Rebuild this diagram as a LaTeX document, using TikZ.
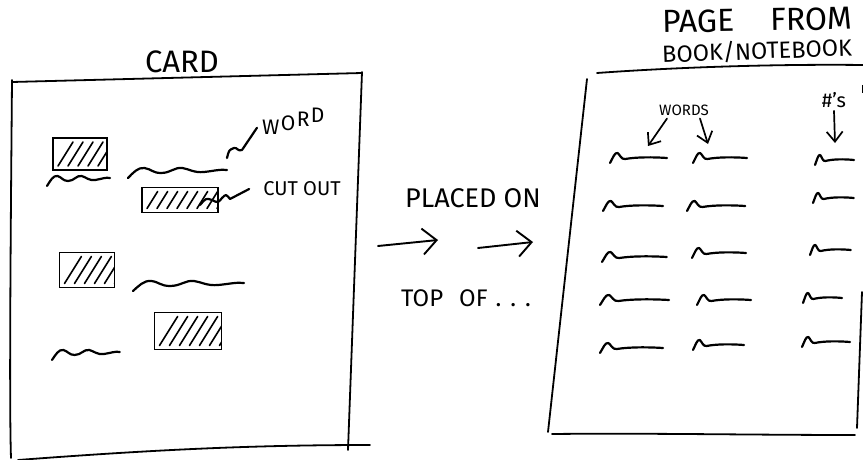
\documentclass[tikz,border=0pt]{standalone}
\usepackage{fontspec}
\setmainfont{Fira Sans}
\usetikzlibrary{arrows.meta}
\tikzset{
  ink/.style={line width=2.2pt, line cap=round, line join=round, black},
  frame/.style={line width=1.8pt, line cap=round, black},
  lbl/.style={inner sep=0pt, font=\fontsize{#1}{#1}\selectfont},
  harrow/.style={line width=1.9pt, line cap=round, -{Straight Barb[length=14pt, width=26pt, line width=1.9pt]}},
  sarrow/.style={line width=1.7pt, line cap=round, -{Straight Barb[length=10pt, width=16pt, line width=1.7pt]}},
  cutbox/.style 2 args={draw, line width=1.6pt, minimum width=#1pt, minimum height=#2pt, inner sep=0pt,
    path picture={\foreach \k in {5,15,...,85}
      \draw[line width=1.6pt, line cap=round] ([xshift=\k pt, yshift=4pt]path picture bounding box.south west) -- ++(58:{(#2-8)*1.18pt});}},
  wsq/.pic={\draw[ink] (0,5) .. controls (3,0) and (5,-6) .. (8,-5) .. controls (10,-4) and (12,2) .. (16,1) .. controls (28,-1) and (45,-1) .. (60,0);},
  csq/.pic={\draw[ink] (0,7) .. controls (3,2) and (6,-4) .. (10,-3) .. controls (14,-2) and (15,2) .. (20,2) .. controls (26,2) and (28,-4) .. (33,-3) .. controls (37,-2) and (40,2) .. (46,1) .. controls (52,0) and (56,-2) .. (60,-1);}
}
\begin{document}
\begin{tikzpicture}[x=1pt, y=-1pt]
\useasboundingbox (0,0) rectangle (863,460);

% ---------- CARD ----------
\node[lbl=31] (card) at (182,62) {CARD};
\draw[frame] (12,82) -- (362,73);
\draw[frame] (12,80) .. controls (11,200) and (9,400) .. (11,458);
\draw[frame] (362,72) -- (348,450);
\draw[frame] (18,460) .. controls (150,450) and (250,445) .. (370,445);

\node[cutbox={54}{32}] (b1) at (80,154) {};
\node[cutbox={76}{25}] (b2) at (180,200) {};
\node[cutbox={55}{35}] (b3) at (87,270) {};
\node[cutbox={67}{37}] (b4) at (188,331) {};

\pic[xscale=1.65] at (128,171) {csq};
\pic[xscale=1.05] at (47,179) {csq};
\pic[xscale=1.85] at (133,284) {csq};
\pic[xscale=1.13] at (52,353) {csq};

% WORD, rising letter by letter
\node[lbl=21, anchor=base west] (wW) at (262,135) {W};
\node[lbl=21, anchor=base west] (wO) at ([xshift=1pt, yshift=4pt]wW.base east) {O};
\node[lbl=21, anchor=base west] (wR) at ([xshift=1pt, yshift=4pt]wO.base east) {R};
\node[lbl=21, anchor=base west] (wD) at ([xshift=1pt, yshift=4pt]wR.base east) {D};
\node[lbl=20] (cutout) at (302,189) {CUT OUT};
\coordinate (w1) at (227,158);
\coordinate (c1) at (200,205);
\draw[ink] (w1) .. controls (229,150) .. (234,148) .. controls (237,147) and (238,152) .. (242,150) -- ([xshift=-5pt]wW.west);
\draw[ink] (c1) .. controls (206,198) .. (212,200) .. controls (218,203) .. (222,198) .. controls (226,194) .. (230,199) -- ([xshift=-14pt]cutout.west);

% ---------- MIDDLE ----------
\node[lbl=27] (placed) at (473,198) {PLACED ON};
\node[lbl=24] (topof) at (466,298) {TOP\hspace{16pt}OF\hspace{8pt}.\hspace{9pt}.\hspace{9pt}.};
\coordinate (a1s) at (378,246);
\coordinate (a1e) at (438,240);
\coordinate (a2s) at (478,248);
\coordinate (a2e) at (533,242);
\draw[harrow] (a1s) -- (a1e);
\draw[harrow] (a2s) -- (a2e);

% ---------- PAGE ----------
\node[lbl=32, rotate=1] (pagefrom) at (757,20) {PAGE\hspace{36pt}FROM};
\node[lbl=23.5, rotate=2] (booknote) at (757,51) {BOOK/NOTEBOOK};
\draw[frame] (597,73) .. controls (680,67) and (780,64) .. (863,65);
\draw[frame] (587,79) -- (548,432);
\draw[frame] (862,292) -- (857,428);
\draw[line width=0.8pt] (862,85) -- (862,93);
\draw[frame] (552,434) .. controls (650,433) and (750,435) .. (855,435);

\node[lbl=15] (words) at (684,110) {WORDS};
\node[lbl=20] (nums) at (834,100) {\#'s};
\coordinate (wa) at (648,146);
\coordinate (wb) at (708,144);
\coordinate (na) at (835,143);
\draw[sarrow] ([xshift=-17pt,yshift=-3pt]words.south) -- (wa);
\draw[sarrow] ([xshift=16pt,yshift=-3pt]words.south) -- (wb);
\draw[sarrow] ([yshift=-3pt]nums.south) -- (na);

% word squiggles
\pic[xscale=0.95] at (610,158) {wsq};
\pic[xscale=0.90] at (693,158) {wsq};
\pic[xscale=0.65] at (815,160) {wsq};

\pic[xscale=1.0] at (603,206) {wsq};
\pic[xscale=0.97] at (687,206) {wsq};
\pic[xscale=0.68] at (813,198) {wsq};

\pic[xscale=1.08] at (602,257) {wsq};
\pic[xscale=0.9] at (692,253) {wsq};
\pic[xscale=0.68] at (810,250) {wsq};

\pic[xscale=1.15] at (600,300) {wsq};
\pic[xscale=0.9] at (697,300) {wsq};
\pic[xscale=0.65] at (803,298) {wsq};

\pic[xscale=1.05] at (600,348) {wsq};
\pic[xscale=0.85] at (693,345) {wsq};
\pic[xscale=0.8] at (802,342) {wsq};
\end{tikzpicture}
\end{document}
